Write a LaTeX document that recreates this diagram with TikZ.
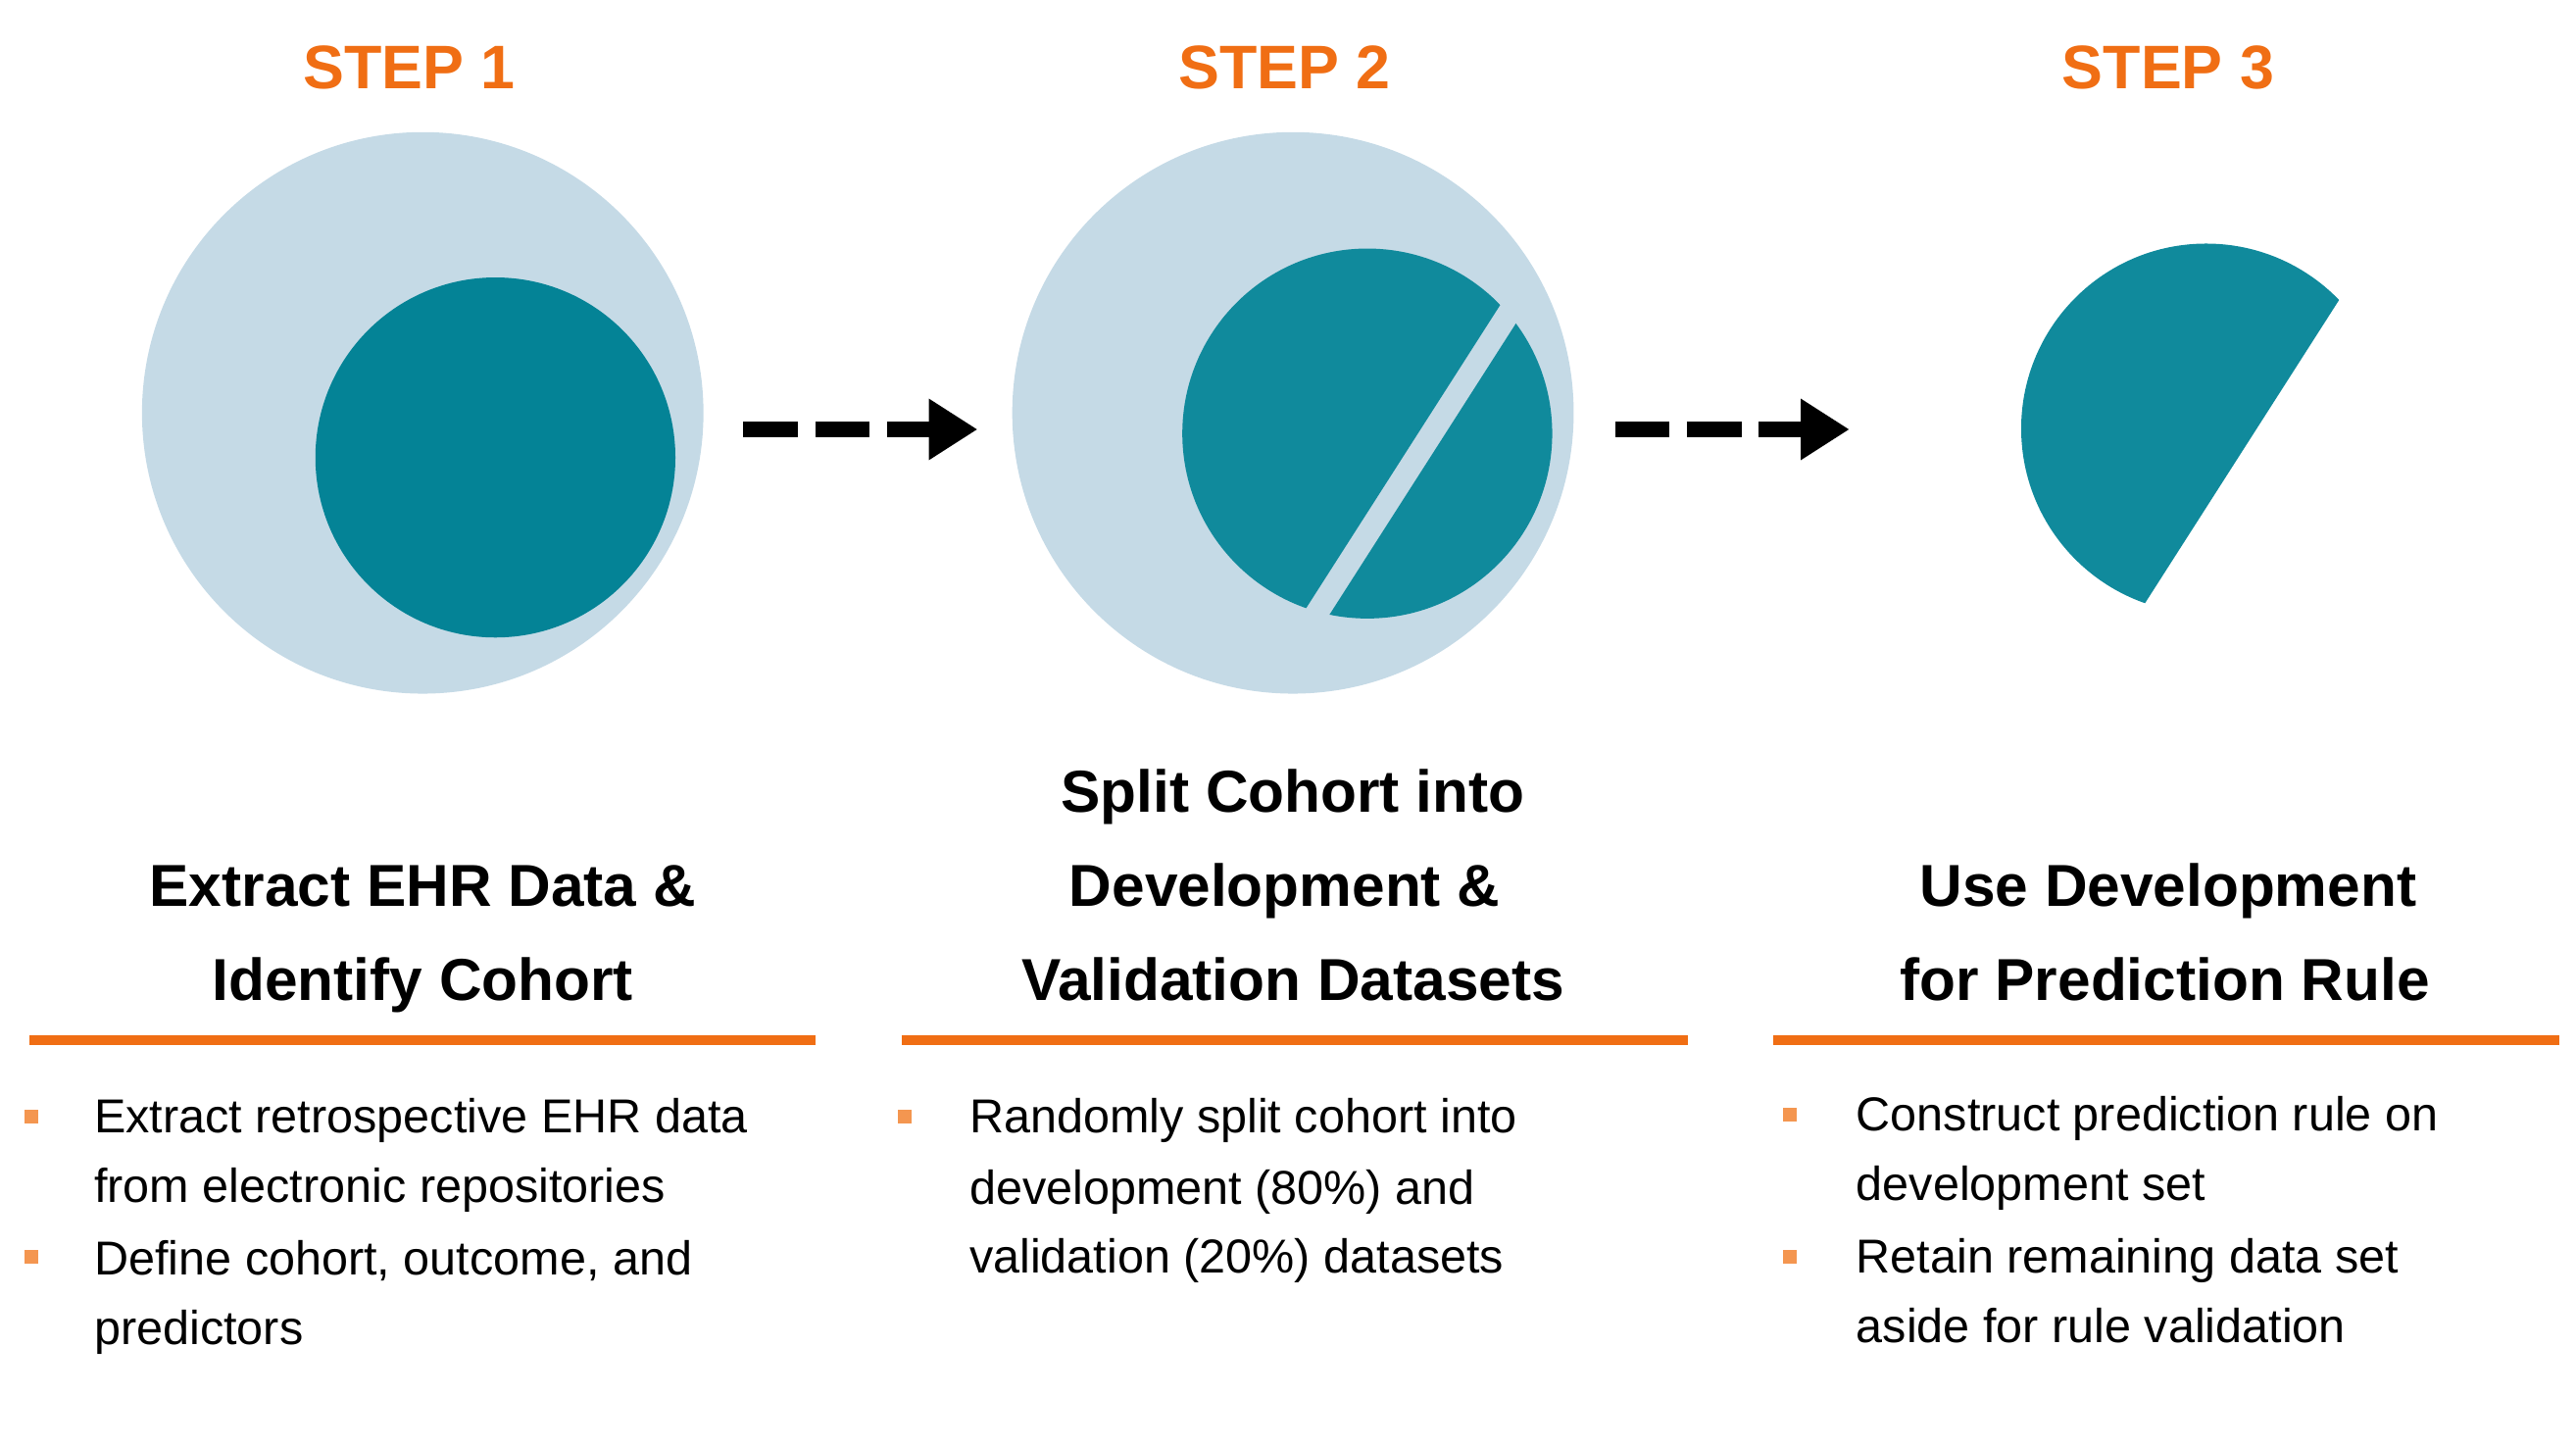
\documentclass[tikz,border=0pt]{standalone}
\usepackage{fontspec}
\setmainfont{Liberation Sans}
\usetikzlibrary{calc,arrows.meta}
\definecolor{orng}{RGB}{240,110,20}
\definecolor{bul}{RGB}{244,150,80}
\definecolor{lblue}{RGB}{197,218,230}
\definecolor{teal1}{RGB}{4,131,150}
\definecolor{teal2}{RGB}{16,138,156}
\begin{document}
\begin{tikzpicture}[x=0.05cm,y=-0.05cm,
  steplbl/.style={text=orng,font=\fontsize{53}{60}\selectfont\bfseries,anchor=base,inner sep=0},
  head/.style={font=\fontsize{51}{58}\selectfont\bfseries,anchor=base,inner sep=0},
  body/.style={font=\fontsize{41}{48}\selectfont,anchor=base west,inner sep=0},
  rule/.style={orng,line width=8.5},
  bsq/.style={fill=bul,draw=none,minimum size=11.5,inner sep=0},
  arr/.style={line width=14,dash pattern=on 47 off 15,-{Triangle[length=42,width=50]}}]
\useasboundingbox (0,0) rectangle (1560,876);
% step labels
\node[steplbl] (s1) at (248,54) {STEP 1};
\node[steplbl] (s2) at (778,54) {STEP 2};
\node[steplbl] (s3) at (1313,54) {STEP 3};
% circles
\fill[lblue] (256,250) circle (170);
\fill[teal1] (300,277) circle (109);
\fill[lblue] (783,250) circle (170);
% step 2 split circle
\begin{scope}
 \clip (699.4,511.3) -- (1022.8,6.1) -- (770.2,-155.6) -- (446.8,349.6) -- cycle;
 \fill[teal2] (828,262.5) circle (112);
\end{scope}
\begin{scope}
 \clip (711.2,518.9) -- (1034.6,13.7) -- (1287.2,175.4) -- (963.8,680.6) -- cycle;
 \fill[teal2] (828,262.5) circle (112);
\end{scope}
% step 3 piece
\begin{scope}[shift={(508,-3)}]
 \clip (699.4,511.3) -- (1022.8,6.1) -- (770.2,-155.6) -- (446.8,349.6) -- cycle;
 \fill[teal2] (828,262.5) circle (112);
\end{scope}
% arrows
\coordinate (a1s) at (450,260); \coordinate (a1e) at (592,260);
\coordinate (a2s) at (978,260); \coordinate (a2e) at (1120,260);
\draw[arr] (a1s) -- (a1e);
\draw[arr] (a2s) -- (a2e);
% headings
\node[head] (h11) at (256,549) {Extract EHR Data \&};
\node[head] (h12) at (256,606) {Identify Cohort};
\node[head] (h21) at (783,492) {Split Cohort into};
\node[head] (h22) at (778,549) {Development \&};
\node[head] (h23) at (783,606) {Validation Datasets};
\node[head] (h31) at (1313,549) {Use Development};
\node[head] (h32) at (1311,606) {for Prediction Rule};
% rules
\coordinate (r1a) at (18,630); \coordinate (r1b) at (494,630);
\coordinate (r2a) at (546,630); \coordinate (r2b) at (1022,630);
\coordinate (r3a) at (1074,630); \coordinate (r3b) at (1550,630);
\draw[rule] (r1a) -- (r1b);
\draw[rule] (r2a) -- (r2b);
\draw[rule] (r3a) -- (r3b);
% bullets col1
\node[bsq] (b11) at (19,676) {};
\node[bsq] (b12) at (19,761) {};
\node[body] (t11) at (57,686) {Extract retrospective EHR data};
\node[body] (t12) at (57,728) {from electronic repositories};
\node[body] (t13) at (57,772) {Define cohort, outcome, and};
\node[body] (t14) at (57,814) {predictors};
% col2
\node[bsq] (b21) at (548,676) {};
\node[body] (t21) at (587,686) {Randomly split cohort into};
\node[body] (t22) at (587,729) {development (80\%) and};
\node[body] (t23) at (587,771) {validation (20\%) datasets};
% col3
\node[bsq] (b31) at (1084,675) {};
\node[bsq] (b32) at (1084,761) {};
\node[body] (t31) at (1124,685) {Construct prediction rule on};
\node[body] (t32) at (1124,727) {development set};
\node[body] (t33) at (1124,771) {Retain remaining data set};
\node[body] (t34) at (1124,813) {aside for rule validation};
\end{tikzpicture}
\end{document}
